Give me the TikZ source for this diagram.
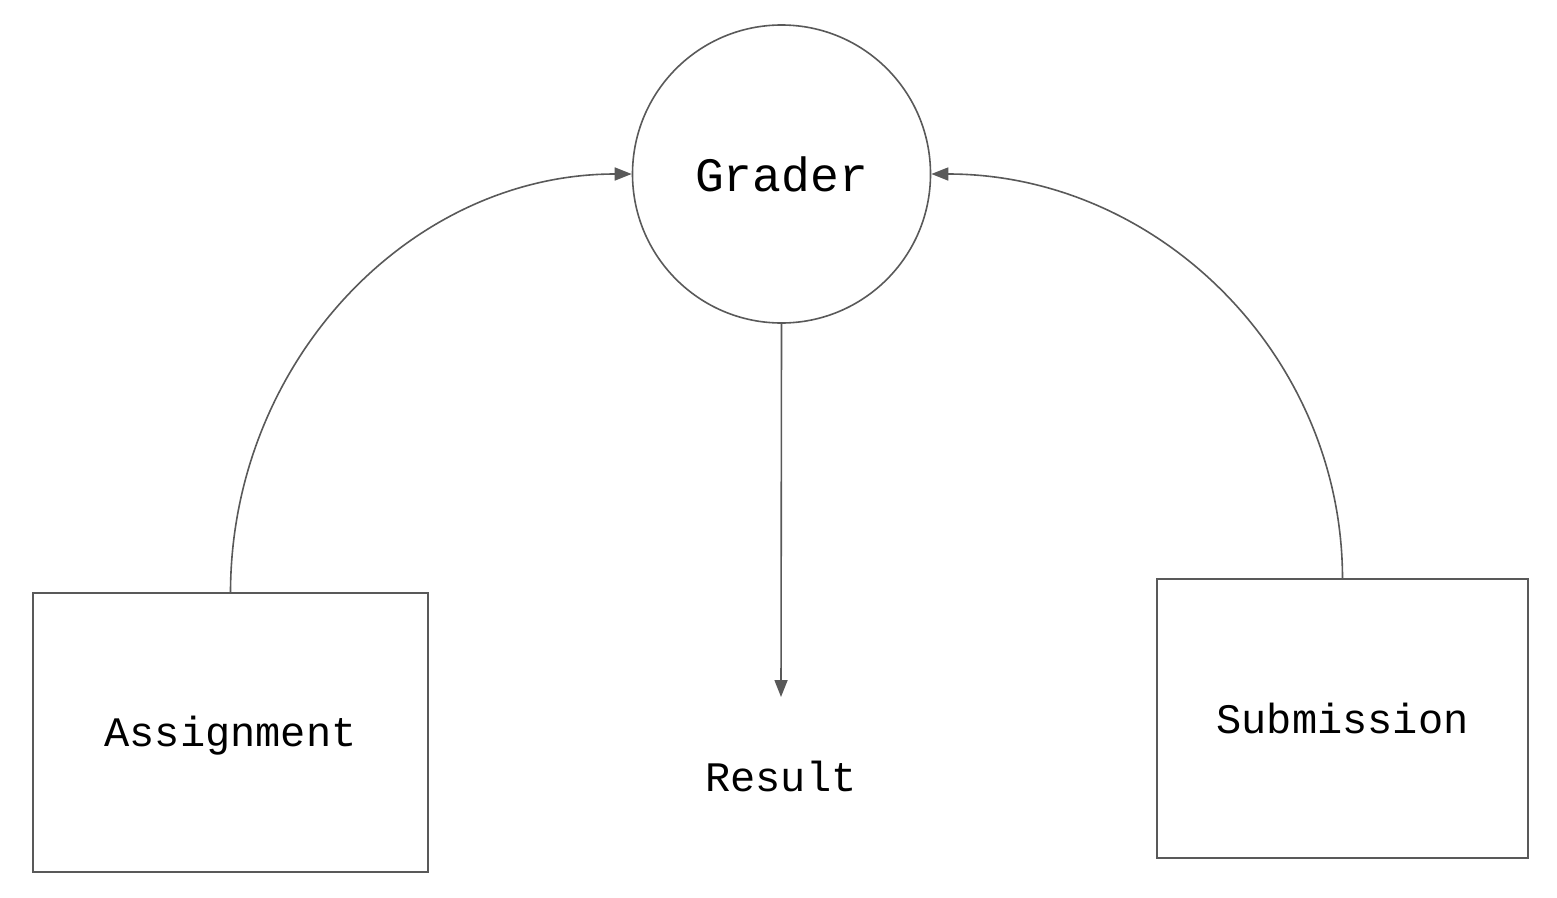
\documentclass[tikz,border=0pt]{standalone}
\usepackage{fontspec}
\setmonofont{Liberation Mono}
\usetikzlibrary{arrows.meta}
\definecolor{linegray}{HTML}{595959}
\begin{document}
\begin{tikzpicture}[x=1pt,y=-1pt,
  line/.style={draw=linegray,line width=1.6pt},
  arr/.style={line,-{Triangle[length=17pt,width=13pt]}},
  box/.style={line,rectangle,inner sep=0pt},
  lbl/.style={font=\ttfamily\fontsize{42}{50}\selectfont,text=black},
]
\useasboundingbox (0,0) rectangle (1557,897);
\node[line,circle,minimum size=298pt,inner sep=0pt,font=\ttfamily\fontsize{48}{56}\selectfont] (grader) at (781.5,174) {Grader};
\node[box,minimum width=395pt,minimum height=279pt,lbl,text depth=2pt] (assign) at (230.5,732.5) {Assignment};
\node[box,minimum width=371pt,minimum height=279pt,lbl] (sub) at (1342.5,718.5) {Submission};
\node[lbl] (result) at (781,776) {Result};
\coordinate (rtip) at (781,697);
\draw[arr] (grader.south) -- (rtip);
\draw[arr] (assign.north) .. controls (231,362) and (410,174) .. (grader.west);
\draw[arr] (sub.north) .. controls (1342,355) and (1158,174) .. (grader.east);
\end{tikzpicture}
\end{document}
